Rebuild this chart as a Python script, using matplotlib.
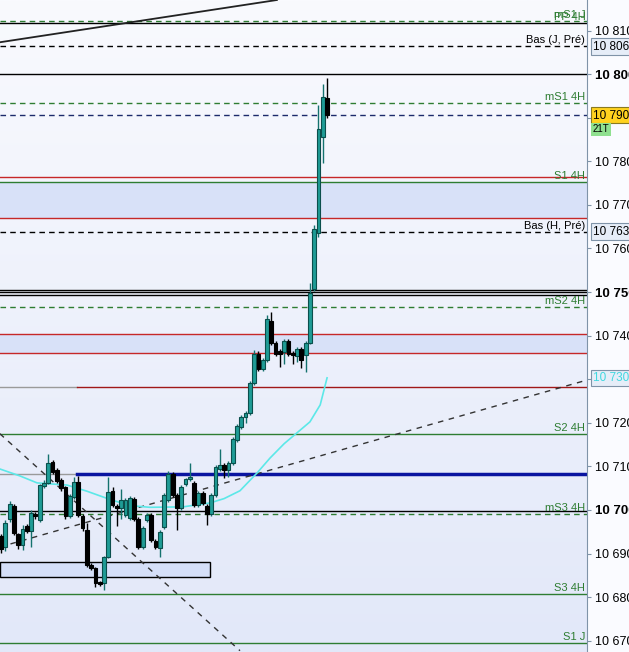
import matplotlib.pyplot as plt
import numpy as np
from matplotlib.colors import LinearSegmentedColormap
from matplotlib.ticker import FixedLocator

plt.rcParams['font.family'] = ['Liberation Sans', 'DejaVu Sans']

# candles (one per bar, left to right)
opens = [10694.0, 10691.5, 10698.0, 10701.0, 10694.5, 10692.0, 10696.3, 10695.2, 10699.0, 10697.7,
         10705.5, 10706.2, 10711.0, 10709.2, 10706.9, 10705.3, 10698.6, 10703.0, 10706.4, 10698.6,
         10695.4, 10687.4, 10686.7, 10683.5, 10683.3, 10689.2, 10704.4, 10701.0, 10700.5, 10698.9,
         10698.2, 10702.5, 10698.0, 10691.5, 10697.7, 10698.9, 10692.9, 10691.3, 10696.1, 10702.3,
         10708.3, 10703.4, 10700.5, 10706.0, 10707.1, 10706.2, 10701.1, 10703.9, 10700.9, 10699.1,
         10703.4, 10709.5, 10710.3, 10709.2, 10710.8, 10716.0, 10719.0, 10721.3, 10722.2, 10729.1,
         10735.8, 10732.3, 10734.4, 10743.3, 10738.3, 10736.5, 10736.2, 10738.8, 10736.0, 10735.3,
         10736.9, 10735.6, 10738.3, 10750.7, 10763.5, 10785.6, 10794.5]
closes = [10691.0, 10697.0, 10701.4, 10694.7, 10692.0, 10695.6, 10695.2, 10699.3, 10698.6, 10705.7,
          10706.2, 10710.8, 10708.7, 10706.7, 10705.0, 10698.6, 10703.2, 10706.4, 10698.9, 10695.9,
          10687.4, 10686.7, 10683.3, 10683.0, 10689.2, 10704.1, 10701.1, 10700.4, 10702.3, 10702.3,
          10702.8, 10698.0, 10691.5, 10695.9, 10698.9, 10693.1, 10691.5, 10695.0, 10703.4, 10708.3,
          10703.4, 10700.5, 10705.3, 10707.0, 10707.5, 10701.1, 10703.9, 10701.6, 10699.1, 10703.4,
          10709.9, 10710.2, 10709.2, 10710.8, 10716.3, 10719.3, 10721.3, 10722.2, 10729.2, 10735.8,
          10732.3, 10734.4, 10743.8, 10738.3, 10735.8, 10735.8, 10738.8, 10735.8, 10735.5, 10736.9,
          10734.4, 10738.3, 10749.8, 10764.4, 10787.4, 10794.7, 10790.6]
highs = [10694.5, 10697.6, 10702.0, 10701.4, 10694.8, 10696.6, 10696.8, 10700.0, 10699.6, 10706.0,
         10706.8, 10712.8, 10711.4, 10709.6, 10707.3, 10705.6, 10703.6, 10707.6, 10707.8, 10699.0,
         10697.0, 10687.8, 10687.0, 10683.8, 10689.5, 10707.6, 10705.3, 10701.4, 10704.8, 10702.8,
         10703.2, 10702.9, 10698.4, 10696.4, 10699.4, 10699.3, 10693.3, 10695.4, 10703.8, 10709.0,
         10708.7, 10703.8, 10705.7, 10707.4, 10710.8, 10706.6, 10704.3, 10704.3, 10701.3, 10703.8,
         10710.3, 10714.0, 10710.7, 10711.2, 10716.7, 10719.7, 10721.7, 10722.6, 10729.6, 10736.8,
         10736.4, 10734.8, 10744.7, 10745.4, 10738.7, 10736.9, 10739.2, 10739.2, 10736.4, 10737.3,
         10737.3, 10738.7, 10752.1, 10765.4, 10792.9, 10797.7, 10799.0]
lows = [10690.2, 10690.6, 10697.3, 10694.2, 10691.0, 10690.8, 10694.6, 10691.4, 10698.0, 10697.2,
        10705.0, 10706.0, 10708.2, 10706.2, 10704.4, 10698.0, 10698.1, 10702.6, 10698.4, 10695.2,
        10687.0, 10686.2, 10682.3, 10682.6, 10681.6, 10689.0, 10700.6, 10696.3, 10698.0, 10698.4,
        10697.6, 10697.5, 10691.0, 10691.0, 10697.2, 10692.6, 10691.0, 10689.2, 10695.6, 10701.8,
        10703.0, 10695.4, 10700.0, 10705.5, 10706.7, 10700.6, 10700.6, 10701.2, 10696.6, 10698.7,
        10703.0, 10709.0, 10707.3, 10707.6, 10710.4, 10715.6, 10718.6, 10720.0, 10721.8, 10728.7,
        10731.8, 10731.9, 10734.0, 10737.9, 10735.3, 10732.8, 10733.5, 10735.3, 10733.5, 10734.0,
        10732.6, 10731.7, 10738.0, 10750.3, 10762.6, 10779.6, 10789.9]

# moving average (cyan), read at a few bar positions
ma_pos = [-0.3, 4.4, 8.4, 15.4, 20.0, 25.4, 30.0, 34.7, 42.4, 48.7, 52.0, 55.7, 59.7, 62.7,
          66.0, 69.0, 72.0, 74.4, 76.0]
ma_val = [10709.4, 10707.8, 10706.2, 10705.7, 10704.3, 10702.4, 10701.0, 10700.6, 10700.7, 10701.6,
          10702.6, 10704.4, 10708.5, 10711.9, 10715.2, 10717.7, 10720.2, 10724.1, 10730.3]

# trend lines (bar position, price)
trend_top = ([-0.3, 64.3], [10807.3, 10817.0])
trend_down = ([-0.3, 55.7], [10717.5, 10667.7])
trend_up = ([-0.3, 136.6], [10691.5, 10729.8])

# zones
bands = [(10767.0, 10775.2), (10736.0, 10740.4)]
box_zone = (10684.6, 10688.1)

# horizontal levels: price, colour, style, width, label
levels = [
    (10812.2, '#2e7d32', (0, (4, 3)), 1.0, 'mS1 J'),
    (10811.7, 'black', '-', 1.0, 'PP 4H'),
    (10806.4, 'black', (0, (4, 3)), 1.0, 'Bas (J, Pré)'),
    (10800.0, 'black', '-', 1.0, ''),
    (10793.3, '#2e7d32', (0, (4, 3)), 1.0, 'mS1 4H'),
    (10790.6, '#1c2a6b', (0, (4, 3)), 1.0, ''),
    (10776.4, '#c62828', '-', 1.0, ''),
    (10775.2, '#2e7d32', '-', 1.0, 'S1 4H'),
    (10767.0, '#c62828', '-', 1.0, ''),
    (10763.8, 'black', (0, (4, 3)), 1.0, 'Bas (H, Pré)'),
    (10750.4, 'black', '-', 1.0, ''),
    (10749.9, 'black', '-', 1.0, ''),
    (10749.4, 'black', '-', 1.0, ''),
    (10746.6, '#2e7d32', (0, (4, 3)), 1.0, 'mS2 4H'),
    (10740.4, '#c62828', '-', 1.0, ''),
    (10736.0, '#c62828', '-', 1.0, ''),
    (10717.4, '#2e7d32', '-', 1.0, 'S2 4H'),
    (10699.8, 'black', '-', 1.0, ''),
    (10699.1, '#2e7d32', (0, (4, 3)), 1.0, 'mS3 4H'),
    (10680.7, '#2e7d32', '-', 1.0, 'S3 4H'),
    (10669.5, '#2e7d32', '-', 1.0, 'S1 J'),
]
# levels that start part-way (grey stub on the left)
split_levels = [(10728.2, '#a01818', 1.0), (10708.3, '#0a14a0', 2.5)]
split_at = 17.7

tick_prices = list(range(10670, 10811, 10))
bold_ticks = [10700, 10750, 10800]
last_price = 10790.6
ma_last = 10730.3

xmin, xmax = -0.25, 136.6
ymin, ymax = 10667.4, 10817.0

fig = plt.figure(figsize=(6.29, 6.52), dpi=100)
fig.patch.set_facecolor('#fafbff')
ax = fig.add_axes([0, 0, 587 / 629, 1])

# background gradient, light at the top and bluer at the bottom
cmap = LinearSegmentedColormap.from_list('bg', ['#f9fafe', '#e2e8f9'])
ax.imshow(np.linspace(0, 1, 256).reshape(-1, 1), cmap=cmap, aspect='auto', origin='upper',
          extent=[xmin, xmax, ymin, ymax], zorder=0)

for lo, hi in bands:
    ax.axhspan(lo, hi, color='#d8e1f8', zorder=1, lw=0)
ax.add_patch(plt.Rectangle((xmin, box_zone[0]), 48.9, box_zone[1] - box_zone[0],
                           facecolor='#d5dff8', edgecolor='black', lw=1.0, zorder=2))

for price, color, ls, lw, label in levels:
    ax.axhline(price, color=color, ls=ls, lw=lw, zorder=2)
    if label:
        tcol = 'black' if 'Bas' in label else '#2e7d32'
        ax.text(xmax - 0.4, price + 0.3, label, ha='right', va='bottom', fontsize=8,
                color=tcol, zorder=3)
for price, color, lw in split_levels:
    ax.plot([xmin, split_at], [price, price], color='#9a9a9a', lw=1.0, zorder=2)
    ax.plot([split_at, xmax], [price, price], color=color, lw=lw, zorder=2)

ax.plot(*trend_top, color='#222222', lw=1.3, zorder=3)
ax.plot(*trend_down, color='#333333', lw=1.0, ls=(0, (4, 4)), zorder=3)
ax.plot(*trend_up, color='#333333', lw=1.0, ls=(0, (4, 4)), zorder=3)
ax.plot(ma_pos, ma_val, color='#5ce8e8', lw=1.2, zorder=3)

# candles
x = np.arange(len(opens))
o = np.array(opens)
c = np.array(closes)
up = c >= o
teal_face, teal_edge = '#1f9c96', '#0b4f4c'
ax.vlines(x[up], np.array(lows)[up], np.array(highs)[up], color='#14726e', lw=1.0, zorder=4)
ax.vlines(x[~up], np.array(lows)[~up], np.array(highs)[~up], color='black', lw=1.0, zorder=4)
body = np.maximum(np.abs(c - o), 0.3)
ax.bar(x[up], body[up], bottom=np.minimum(o, c)[up], width=0.88,
       facecolor=teal_face, edgecolor=teal_edge, lw=0.8, zorder=5)
ax.bar(x[~up], body[~up], bottom=np.minimum(o, c)[~up], width=0.88,
       facecolor='black', edgecolor='black', lw=0.8, zorder=5)

ax.set_xlim(xmin, xmax)
ax.set_ylim(ymin, ymax)
ax.set_xticks([])
ax.yaxis.tick_right()
ax.yaxis.set_major_locator(FixedLocator(tick_prices))
ax.set_yticklabels([f"{p // 1000} {p % 1000:03d}" for p in tick_prices])
for lab, p in zip(ax.get_yticklabels(), tick_prices):
    lab.set_fontsize(9)
    if p in bold_ticks:
        lab.set_fontweight('bold')
        lab.set_fontsize(9.5)
ax.tick_params(axis='y', length=3, pad=3, color='#7f93a8')
for side in ['top', 'left', 'bottom']:
    ax.spines[side].set_visible(False)
ax.spines['right'].set_color('#7f93a8')

# price tags on the scale
ytr = ax.get_yaxis_transform()
tag = dict(transform=ytr, ha='left', va='center', fontsize=8.5, clip_on=False, zorder=6)
ax.text(1.01, 10806.4, '10 806,', bbox=dict(boxstyle='square,pad=0.2', fc='#e6edf8', ec='#7f93a8', lw=0.8), **tag)
ax.text(1.01, 10763.8, '10 763,', bbox=dict(boxstyle='square,pad=0.2', fc='#e6edf8', ec='#7f93a8', lw=0.8), **tag)
ax.text(1.01, last_price, '10 790,', bbox=dict(boxstyle='square,pad=0.2', fc='#ffd21f', ec='#8a7a20', lw=0.8), **tag)
ax.text(1.01, ma_last, '10 730,', color='#40d8e0',
        bbox=dict(boxstyle='square,pad=0.2', fc='#e6edf8', ec='#7f93a8', lw=0.8), **tag)
ax.text(1.01, 10787.3, '21T', transform=ytr, ha='left', va='center', fontsize=7, clip_on=False,
        bbox=dict(boxstyle='square,pad=0.15', fc='#8fe08f', ec='none'), zorder=6)

fig.savefig('out.png', dpi=100, facecolor=fig.get_facecolor())
